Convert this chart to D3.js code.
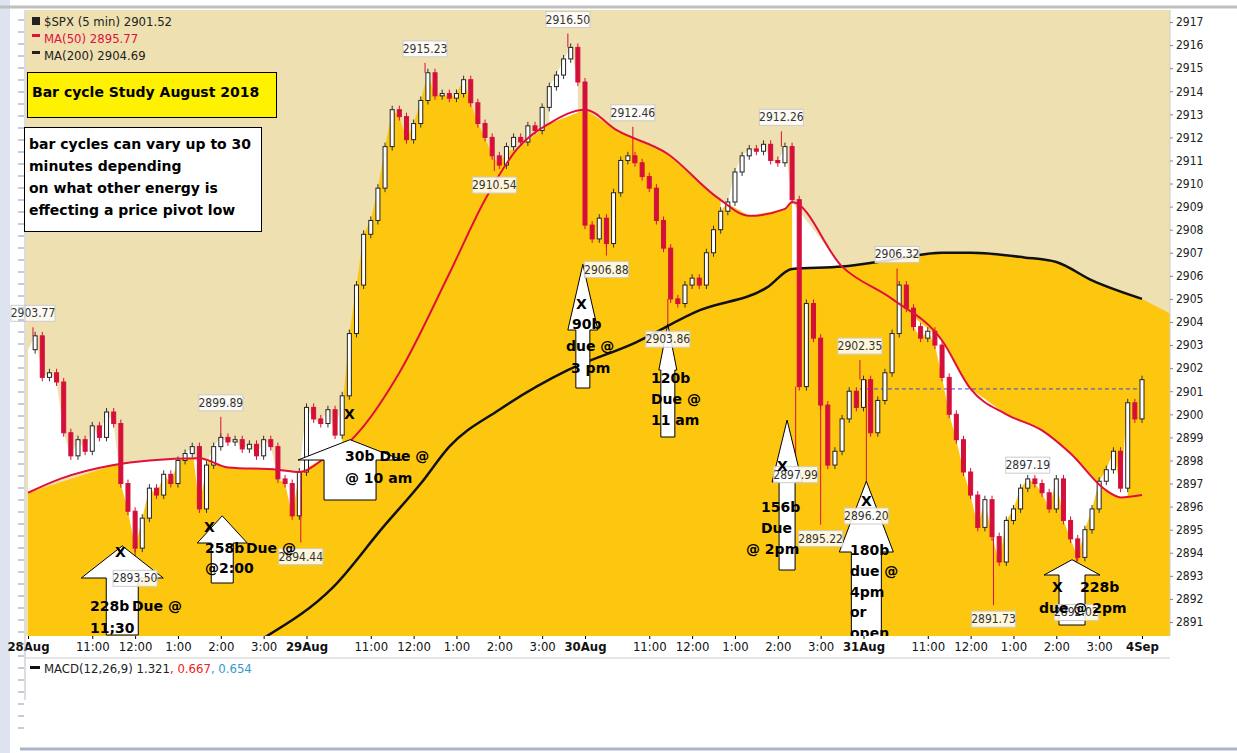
<!DOCTYPE html>
<html><head><meta charset="utf-8">
<script src="https://cdn.jsdelivr.net/npm/d3@7"></script>
<style>body{margin:0;background:#fff}svg{display:block}</style>
</head><body><svg id="c" width="1237" height="753"></svg>
<script>
// 10-minute closes, 28Aug -> 4Sep (slot index = bar)
var closes = [
 2902.8,2903.4,2901.6,2901.8,2901.4,2899.2,2898.2,2898.9,2898.4,2899.5,2899.0,2900.1,2899.6,2897.0,2895.8,2894.2,2895.5,2896.8,2896.5,2897.4,
 2897.0,2898.0,2898.3,2898.6,2895.9,2897.8,2898.6,2899.0,2898.8,2898.9,2898.5,2898.7,2898.2,2898.9,2898.6,2897.2,2897.0,2895.6,
 2897.5,2900.3,2899.8,2899.6,2900.2,2899.1,2900.8,2903.5,2905.6,2907.8,2908.4,2909.8,2911.6,2913.2,2912.9,2911.9,2912.6,2913.6,2914.8,2913.8,
 2913.9,2913.7,2913.9,2914.5,2913.5,2912.6,2912.0,2911.2,2910.8,2911.6,2912.0,2911.8,2912.5,2912.3,2913.3,2914.2,2914.7,2915.4,2915.9,
 2914.4,2908.2,2907.6,2908.5,2907.4,2909.6,2911.0,2911.2,2910.9,2910.3,2909.8,2908.4,2907.2,2905.0,2904.8,2905.6,2905.9,2905.6,2907.0,2908.0,
 2908.8,2909.2,2910.5,2911.2,2911.5,2911.4,2911.7,2911.0,2910.9,2911.6,2909.3,2901.2,2904.8,2903.3,2900.4,2897.8,2898.4,2899.8,2901.0,
 2900.3,2901.5,2899.2,2900.6,2901.8,2903.5,2905.6,2904.6,2903.8,2903.3,2903.6,2903.0,2901.6,2900.0,2898.9,2897.5,2896.5,2895.1,2896.3,2894.7,
 2893.6,2895.4,2895.9,2896.8,2897.2,2897.0,2896.6,2895.9,2897.2,2895.4,2894.6,2893.8,2895.0,2895.9,2897.1,2897.6,2898.4,2896.8,2900.5,2899.8,2901.5
];
var ma50Slots = [0,4.5,12,17,24,28,35,38,42,45,46.5,52,59,64,68.5,73,78,82.5,89.5,96.5,101,106,107,114,121,128,132,137,142,146,151,153,156];
var ma50Vals  = [2896.6,2897.2,2897.8,2898.0,2898.1,2897.7,2897.6,2897.5,2898.2,2898.8,2899.3,2901.8,2906.1,2909.3,2911.5,2912.6,2913.2,2912.3,2911.3,2909.4,2908.6,2908.9,2909.2,2906.4,2905.0,2903.2,2901.1,2900.0,2899.3,2898.3,2896.7,2896.4,2896.5];
var ma200Slots = [33.5,42.7,49.7,55,59,66,75.5,85,94,103.5,107,114,121,128,132,139.5,144,149,156];
var ma200Vals  = [2890.4,2892.5,2895.1,2897.0,2898.6,2900.2,2901.9,2903.1,2904.5,2905.5,2906.3,2906.4,2906.7,2907.0,2907.0,2906.8,2906.6,2905.8,2905.0];
var cloudSlots = [0,12,24,38,42,44,45,46,47,48,49,50,51,52,53,54,55,56,57,58,59,60,61,62,63,64,65,66,67,68.5,73,78,82.5,89.5,96.5,101,106,107,107.6,114,121,128,132,139.5,144,149,156,161];
var cloudVals  = [2896.6,2897.8,2898.1,2897.5,2898.2,2900.2,2903.5,2905.6,2907.8,2908.4,2909.8,2911.6,2913.2,2912.9,2911.9,2912.6,2913.6,2914.8,2913.8,2913.9,2913.7,2913.9,2914.5,2913.5,2912.6,2912.0,2911.2,2910.8,2911.4,2911.5,2912.6,2913.2,2912.3,2911.3,2909.4,2908.6,2908.9,2909.2,2906.3,2906.4,2906.7,2907.0,2907.0,2906.8,2906.6,2905.8,2905.0,2904.2];
var whiteRanges = [[0,44],[73,77],[97,107],[124,154]];
var pivotSlots  = [0.7,15,27,38.2,55.6,75.6,65.3,84.7,81,89.6,105.5,107.5,111,116.5,117.4,121.7,140,135.2,146.8];
var pivotVals   = [2903.77,2893.50,2899.89,2894.44,2915.23,2916.50,2910.54,2912.46,2906.88,2903.86,2912.26,2897.99,2895.22,2902.35,2896.20,2906.32,2897.19,2891.73,2892.02];
var pivotHigh   = [1,0,1,0,1,1,0,1,0,0,1,0,0,1,0,1,1,0,0];
var yTicks = d3.range(2891, 2918);
var dayLabels = ["28Aug","29Aug","30Aug","31Aug","4Sep"];
var hourLabels = ["11:00","12:00","1:00","2:00","3:00"];
var lastPrice = 2901.1;

var svg = d3.select("#c");
var L = 26, R = 1170, T = 10, B = 636;
var x = d3.scaleLinear().domain([0,156]).range([28,1142]);
var y = d3.scaleLinear().domain([2917,2891]).range([22,622]);
var ma50At = d3.scaleLinear().domain(ma50Slots).range(ma50Vals).clamp(true);
var ma200At = d3.scaleLinear().domain(ma200Slots).range(ma200Vals).clamp(true);

// frame
svg.append("rect").attr("x",0).attr("y",0).attr("width",1237).attr("height",753).attr("fill","#fff");
svg.append("rect").attr("x",0).attr("y",0).attr("width",10).attr("height",753).attr("fill","#dde4f0");
svg.append("line").attr("x1",0).attr("x2",1237).attr("y1",7).attr("y2",7).attr("stroke","#c0c0c0").attr("stroke-width",3);
svg.append("clipPath").attr("id","pl").append("rect").attr("x",L).attr("y",T).attr("width",R-L).attr("height",B-T);
var plot = svg.append("g").attr("clip-path","url(#pl)");
plot.append("rect").attr("x",L).attr("y",T).attr("width",R-L).attr("height",B-T).attr("fill","#eee0b0");

plot.append("path").datum(d3.range(cloudSlots.length))
  .attr("fill","#fdc70f")
  .attr("d", d3.area().x(function(i){return x(cloudSlots[i]);}).y0(B).y1(function(i){return y(cloudVals[i]);}));

whiteRanges.forEach(function(r){
  var idx = d3.range(r[0], r[1]+1);
  plot.append("path").datum(idx).attr("fill","#fff")
    .attr("d", d3.area().x(function(i){return x(i);}).y0(function(i){return y(ma50At(i));}).y1(function(i){return y(closes[i]);}));
});
plot.append("path").datum(d3.range(107,116.5,0.5)).attr("fill","#fff")
  .attr("d", d3.area().x(function(i){return x(i);}).y0(function(i){return y(ma200At(i));}).y1(function(i){return y(Math.max(ma50At(i),ma200At(i)));}));

// MA200 line
plot.append("path").datum(d3.range(ma200Slots.length)).attr("fill","none").attr("stroke","#111").attr("stroke-width",2.5)
  .attr("d", d3.line().curve(d3.curveMonotoneX).x(function(i){return x(ma200Slots[i]);}).y(function(i){return y(ma200Vals[i]);}));
plot.append("line").attr("x1",x(33.5)-12).attr("y1",B+8).attr("x2",x(33.5)).attr("y2",y(2890.4)).attr("stroke","#111").attr("stroke-width",2.5);

// dashed last price
plot.append("line").attr("x1",x(116.5)).attr("x2",x(156)).attr("y1",y(lastPrice)).attr("y2",y(lastPrice))
  .attr("stroke","#3344ee").attr("stroke-dasharray","4,3");

// candles (open = previous close)
var bw = 4;
var cg = plot.append("g");
closes.forEach(function(c,i){
  if(i===0) return;
  var o = closes[i-1], up = c >= o;
  var top = y(Math.max(o,c)), bot = y(Math.min(o,c));
  cg.append("line").attr("x1",x(i)).attr("x2",x(i)).attr("y1",top-4).attr("y2",bot+4)
    .attr("stroke", up ? "#333" : "#d4103a").attr("stroke-width",1);
  cg.append("rect").attr("x",x(i)-bw/2).attr("y",top).attr("width",bw).attr("height",Math.max(1,bot-top))
    .attr("fill", up ? "#fff" : "#d4103a").attr("stroke", up ? "#222" : "#d4103a").attr("stroke-width",1);
});
plot.append("path").datum(d3.range(ma50Slots.length)).attr("fill","none").attr("stroke","#e0103c").attr("stroke-width",2)
  .attr("d", d3.line().curve(d3.curveMonotoneX).x(function(i){return x(ma50Slots[i]);}).y(function(i){return y(ma50Vals[i]);}));

// pivot wicks
pivotSlots.forEach(function(s,k){
  var px = x(s), py = y(pivotVals[k]), near = y(closes[Math.round(s)]);
  plot.append("line").attr("x1",px).attr("x2",px).attr("y1",py).attr("y2",near).attr("stroke","#d4103a").attr("stroke-width",1);
});

// arrows: tip slot/value, head base y, head half width, shaft half width, bottom y
var arrows = [
  [13.2,2894.3,578,41,16,635],[27.2,2895.6,543,25,11,583],[45.1,2898.9,460,52,26,500],
  [77.7,2906.5,330,15,7,388],[89.6,2903.9,370,9,7,437],[106.3,2899.75,482,15,8,570],
  [117.4,2897.1,552,27,15,642],[146.2,2893.7,575,28,13,625]
];
arrows.forEach(function(a){
  var tx = x(a[0]), ty = y(a[1]);
  var pts = [[tx,ty],[tx+a[3],a[2]],[tx+a[4],a[2]],[tx+a[4],a[5]],[tx-a[4],a[5]],[tx-a[4],a[2]],[tx-a[3],a[2]]];
  svg.append("path").attr("d","M"+pts.join("L")+"Z").attr("fill","#fff").attr("stroke","#000").attr("stroke-width",1);
});

// pivot labels (on top of arrows)
pivotSlots.forEach(function(s,k){
  var px = x(s), py = y(pivotVals[k]);
  var ly = pivotHigh[k] ? py-14 : py+14;
  var g = svg.append("g").attr("transform","translate("+px+","+ly+")");
  g.append("rect").attr("x",-22).attr("y",-8).attr("width",44).attr("height",16).attr("fill","#fff").attr("fill-opacity",0.85).attr("stroke","#ccc");
  g.append("text").attr("text-anchor","middle").attr("y",4).attr("font-family","Liberation Sans Narrow, DejaVu Sans Condensed")
    .attr("font-size",12).attr("fill","#333").text(pivotVals[k].toFixed(2));
});

// annotation texts
var notes = [
 ["X",115,557],["228b",90,611],["Due @",132,611],["11;30",90,633],
 ["X",204,532],["258b",205,553],["Due @",246,553],["@2:00",205,573],
 ["X",344,419],["30b  Due @",345,461],["@ 10 am",345,483],
 ["X",576,309],["90b",572,329],["due @",566,351],["3 pm",571,373],
 ["120b",651,383],["Due @",651,404],["11 am",651,425],
 ["X",777,471],["156b",761,512],["Due",761,533],["@ 2pm",746,554],
 ["X",861,506],["180b",850,555],["due @",850,576],["4pm",850,597],["or",850,617],["open",850,638],
 ["X",1052,592],["228b",1080,592],["due @ 2pm",1039,613]
];
notes.forEach(function(n){
  svg.append("text").attr("x",n[1]).attr("y",n[2]).attr("font-family","DejaVu Sans").attr("font-weight","bold")
    .attr("font-size",14).attr("fill","#000").text(n[0]);
});

// right axis
svg.append("rect").attr("x",R).attr("y",T).attr("width",1237-R).attr("height",B-T+20).attr("fill","#fff");
svg.append("line").attr("x1",R).attr("x2",R).attr("y1",T).attr("y2",B).attr("stroke","#ccc");
var ya = svg.append("g").attr("transform","translate("+R+",0)")
  .call(d3.axisRight(y).tickValues(yTicks).tickSize(3).tickFormat(d3.format("d")));
ya.select(".domain").remove();
ya.selectAll("text").attr("font-family","DejaVu Sans Condensed").attr("font-size",12).attr("fill","#222");
ya.selectAll("line").attr("stroke","#888");

// bottom axis
svg.append("rect").attr("x",L).attr("y",B).attr("width",R-L).attr("height",22).attr("fill","#fff");
svg.append("line").attr("x1",L).attr("x2",R).attr("y1",B+22).attr("y2",B+22).attr("stroke","#ccc");
var tickSlots = [], tickText = [];
for(var d=0; d<5; d++){
  tickSlots.push(d*39); tickText.push(dayLabels[d]);
  if(d<4) hourLabels.forEach(function(h,k){ tickSlots.push(d*39+9+k*6); tickText.push(h); });
}
var xa = svg.append("g").attr("transform","translate(0,"+B+")")
  .call(d3.axisBottom(x).tickValues(tickSlots).tickSize(3).tickFormat(function(v,i){return tickText[i];}));
xa.select(".domain").remove();
xa.selectAll("text").attr("font-family","DejaVu Sans Condensed").attr("font-size",13).attr("fill","#111")
  .attr("font-weight",function(v,i){return tickText[i].indexOf("Aug")>0||tickText[i].indexOf("Sep")>0 ? "bold":"normal";});

// left ruler
var lr = svg.append("g");
d3.range(20,740,12).forEach(function(v){
  lr.append("line").attr("x1",18).attr("x2",24).attr("y1",v).attr("y2",v).attr("stroke","#8899bb");
});
svg.append("line").attr("x1",25).attr("x2",25).attr("y1",T).attr("y2",700).attr("stroke","#bbb");

// MACD label
svg.append("rect").attr("x",30).attr("y",666).attr("width",10).attr("height",3).attr("fill","#111");
var mt = svg.append("text").attr("x",44).attr("y",673).attr("font-family","DejaVu Sans Condensed").attr("font-size",13);
mt.append("tspan").attr("fill","#222").text("MACD(12,26,9) 1.321");
mt.append("tspan").attr("fill","#f02020").text(", 0.667");
mt.append("tspan").attr("fill","#3399cc").text(", 0.654");
svg.append("line").attr("x1",20).attr("x2",1237).attr("y1",749).attr("y2",749).attr("stroke","#aab4c8").attr("stroke-width",3);

// legend
var lg = [["$SPX (5 min) 2901.52","#222"],["MA(50) 2895.77","#e0103c"],["MA(200) 2904.69","#222"]];
lg.forEach(function(l,i){
  svg.append("rect").attr("x",32).attr("y",17+i*17).attr("width",8).attr("height",i===0?8:3).attr("fill",l[1]);
  svg.append("text").attr("x",44).attr("y",26+i*17).attr("font-family","DejaVu Sans Condensed").attr("font-size",13)
    .attr("fill",l[1]).text(l[0]);
});

// boxes
svg.append("rect").attr("x",27.5).attr("y",72.5).attr("width",249).attr("height",45).attr("fill","#fff200").attr("stroke","#000");
svg.append("text").attr("x",32).attr("y",97).attr("font-family","DejaVu Sans").attr("font-weight","bold").attr("font-size",14).text("Bar cycle Study August 2018");
svg.append("rect").attr("x",24.5).attr("y",127.5).attr("width",237).attr("height",104).attr("fill","#fff").attr("stroke","#000");
["bar cycles can vary up to 30","minutes depending","on what other energy is","effecting a price pivot low"].forEach(function(t,i){
  svg.append("text").attr("x",29).attr("y",149+i*22).attr("font-family","DejaVu Sans").attr("font-weight","bold").attr("font-size",14).text(t);
});
</script></body></html>
